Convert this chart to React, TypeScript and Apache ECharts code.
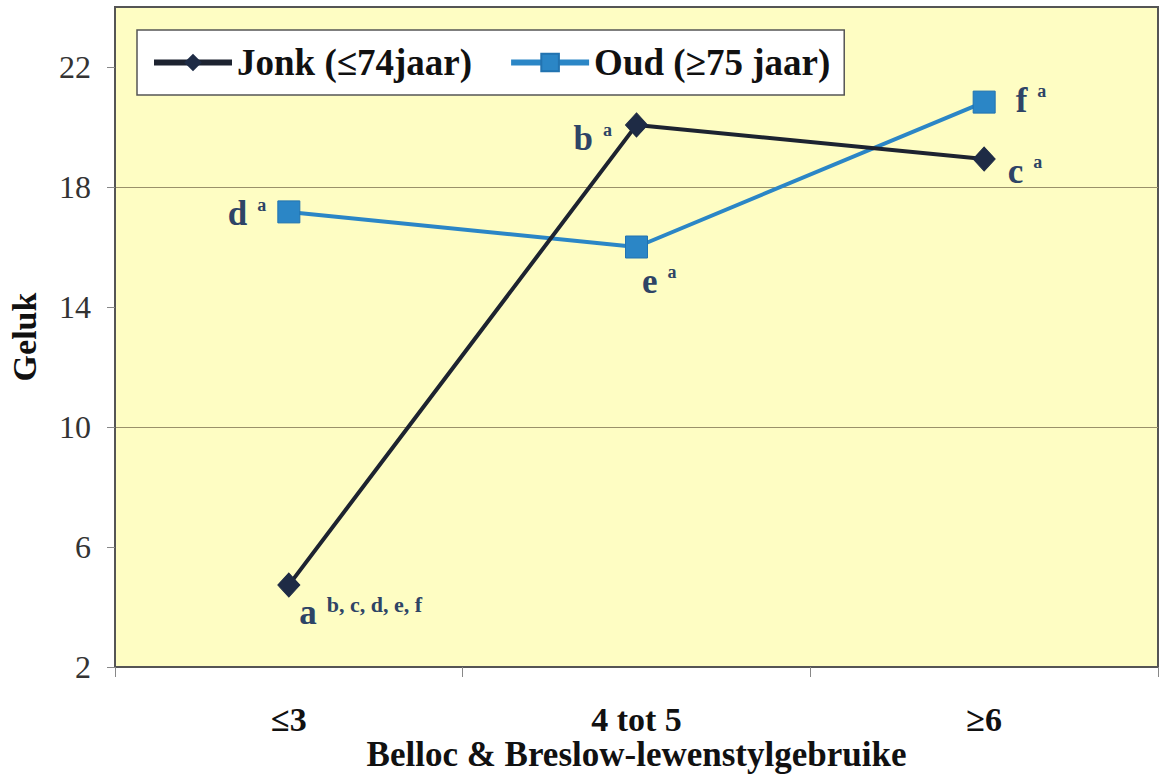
import React, { useEffect, useRef } from "react";
import * as echarts from "echarts";

const categories = ["≤3", "4 tot 5", "≥6"];
const jonkValues = [4.73, 20.07, 18.93];
const oudValues = [17.17, 16.0, 20.83];
const yTicks = [2, 6, 10, 14, 18, 22];
const jonkLabels = [
  { main: "a", sup: "b, c, d, e, f" },
  { main: "b", sup: "a" },
  { main: "c", sup: "a" },
];
const oudLabels = [
  { main: "d", sup: "a" },
  { main: "e", sup: "a" },
  { main: "f", sup: "a" },
];

const FONT = "Liberation Serif";
const LABEL_COLOR = "#2e4466";

const rich = {
  m: { fontFamily: FONT, fontWeight: "bold", fontSize: 35, color: LABEL_COLOR },
  s: {
    fontFamily: FONT,
    fontWeight: "bold",
    fontSize: 18,
    color: LABEL_COLOR,
    padding: [0, 0, 18, 10],
  },
  l: {
    fontFamily: FONT,
    fontWeight: "bold",
    fontSize: 22,
    color: LABEL_COLOR,
    padding: [0, 0, 16, 10],
  },
};

const jonkLabelPos: any[] = [
  { position: "right", offset: [-6, 27] },
  { position: "left", offset: [-8, 14] },
  { position: "right", offset: [7, 12] },
];
const oudLabelPos: any[] = [
  { position: "left", offset: [-6, 2] },
  { position: "right", offset: [-11, 34] },
  { position: "right", offset: [15, -2] },
];

function buildData(vals: number[], labels: { main: string; sup: string }[], pos: any[]) {
  return vals.map((v, i) => ({
    value: v,
    label: {
      show: true,
      position: pos[i].position,
      offset: pos[i].offset,
      formatter: `{m|${labels[i].main}}{${labels[i].sup.length > 1 ? "l" : "s"}|${labels[i].sup}}`,
      rich,
    },
  }));
}

export default function App() {
  const ref = useRef<HTMLDivElement>(null);
  useEffect(() => {
    document.body.style.margin = "0";
    const chart = echarts.init(ref.current!, null, { renderer: "svg" });
    chart.setOption({
      animation: false,
      backgroundColor: "#ffffff",
      grid: {
        left: 115,
        right: 2,
        top: 7,
        bottom: 107,
        outerBoundsMode: "none",
        show: true,
        backgroundColor: "#fefdc3",
        borderColor: "#555555",
        borderWidth: 2,
      },
      legend: {
        left: 137,
        top: 30,
        backgroundColor: "#ffffff",
        borderColor: "#555555",
        borderWidth: 1.5,
        borderRadius: 0,
        padding: [14, 14, 14, 14],
        itemWidth: 78,
        itemHeight: 22,
        itemGap: 36,
        lineStyle: { width: 6 },
        textStyle: {
          fontFamily: FONT,
          fontWeight: "bold",
          fontSize: 37,
          color: "#111111",
        },
        data: ["Jonk (≤74jaar)", "Oud (≥75 jaar)"],
      },
      xAxis: {
        type: "category",
        data: categories,
        boundaryGap: true,
        axisLine: { show: true, lineStyle: { color: "#555555", width: 2 } },
        axisTick: { show: true, length: 10, lineStyle: { color: "#888888" } },
        axisLabel: {
          margin: 35,
          fontFamily: FONT,
          fontWeight: "bold",
          fontSize: 34,
          color: "#111111",
        },
        name: "Belloc & Breslow-lewenstylgebruike",
        nameLocation: "middle",
        nameMoveOverlap: false,
        nameGap: 70,
        nameTextStyle: {
          fontFamily: FONT,
          fontWeight: "bold",
          fontSize: 35,
          color: "#111111",
        },
      },
      yAxis: {
        type: "value",
        min: 2,
        max: 24,
        interval: 2,
        axisLine: { show: true, lineStyle: { color: "#555555", width: 2 } },
        axisTick: {
          show: true,
          length: 8,
          customValues: yTicks,
          lineStyle: { color: "#888888" },
        },
        axisLabel: {
          customValues: yTicks,
          margin: 24,
          fontFamily: FONT,
          fontSize: 32,
          color: "#333333",
        },
        splitLine: {
          show: true,
          lineStyle: { color: ["#9a916a", "rgba(0,0,0,0)"], width: 1 },
        },
        name: "Geluk",
        nameLocation: "middle",
        nameMoveOverlap: false,
        nameGap: 74,
        nameTextStyle: {
          fontFamily: FONT,
          fontWeight: "bold",
          fontSize: 34,
          color: "#111111",
        },
      },
      series: [
        {
          name: "Jonk (≤74jaar)",
          type: "line",
          data: buildData(jonkValues, jonkLabels, jonkLabelPos),
          symbol: "diamond",
          symbolSize: [22, 24],
          lineStyle: { color: "#1d2330", width: 4 },
          itemStyle: { color: "#1e2b45", borderColor: "#1e2b45" },
          z: 3,
        },
        {
          name: "Oud (≥75 jaar)",
          type: "line",
          data: buildData(oudValues, oudLabels, oudLabelPos),
          symbol: "rect",
          symbolSize: 22,
          lineStyle: { color: "#2b86c6", width: 4 },
          itemStyle: { color: "#2b86c6", borderColor: "#2273b0", borderWidth: 1 },
          z: 2,
        },
      ],
    });
    return () => chart.dispose();
  }, []);
  return <div ref={ref} style={{ width: 1160, height: 774 }} />;
}
